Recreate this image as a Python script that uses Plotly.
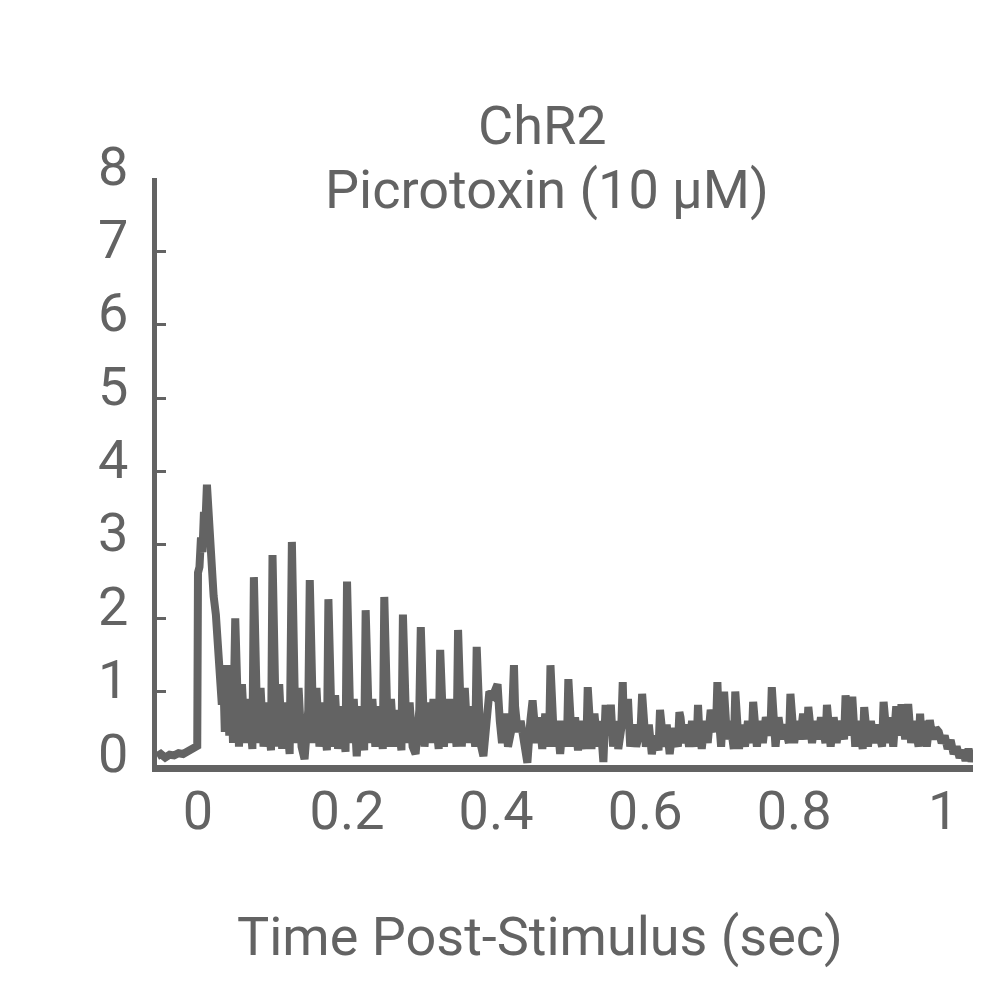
import plotly.graph_objects as go

# pre-stimulus baseline
baseline_t = [-0.055, -0.050, -0.044, -0.038, -0.032, -0.026, -0.020, -0.014, -0.008, -0.003, -0.001]
baseline_r = [0.12, 0.15, 0.10, 0.14, 0.13, 0.16, 0.15, 0.18, 0.20, 0.24, 0.26]

# onset burst
onset_t = [0.000, 0.002, 0.004, 0.006, 0.008, 0.010, 0.012, 0.014, 0.016, 0.018, 0.021,
           0.024, 0.027, 0.030, 0.032, 0.034, 0.036, 0.039, 0.042, 0.045, 0.047]
onset_r = [2.62, 2.70, 3.10, 2.90, 3.45, 3.30, 3.82, 3.40, 3.00, 2.62, 2.30,
           2.05, 1.60, 1.45, 0.82, 1.20, 0.45, 1.36, 0.40, 1.00, 0.30]

# 40 Hz train, one row per light pulse
train_t = [
    0.050, 0.0515, 0.055, 0.059, 0.063, 0.067, 0.073,
    0.075, 0.0765, 0.080, 0.084, 0.088, 0.092, 0.098,
    0.100, 0.1015, 0.105, 0.109, 0.113, 0.117, 0.123,
    0.126, 0.1275, 0.131, 0.135, 0.139, 0.143, 0.148,
    0.150, 0.1515, 0.155, 0.159, 0.163, 0.167, 0.173,
    0.175, 0.1765, 0.180, 0.184, 0.188, 0.192, 0.198,
    0.200, 0.2015, 0.205, 0.209, 0.213, 0.217, 0.223,
    0.225, 0.2265, 0.230, 0.234, 0.238, 0.242, 0.248,
    0.250, 0.2515, 0.255, 0.259, 0.263, 0.267, 0.273,
    0.275, 0.2765, 0.280, 0.284, 0.288, 0.292, 0.297,
    0.299, 0.3005, 0.304, 0.308, 0.312, 0.316, 0.323,
    0.325, 0.3265, 0.330, 0.334, 0.338, 0.342, 0.347,
    0.349, 0.3505, 0.354, 0.358, 0.362, 0.366, 0.372,
    0.374, 0.3755, 0.379, 0.383, 0.387, 0.391, 0.396,
    0.399, 0.402, 0.405, 0.408, 0.412, 0.416, 0.421,
    0.424, 0.4255, 0.429, 0.433, 0.437, 0.442, 0.446,
    0.449, 0.4505, 0.454, 0.458, 0.462, 0.466, 0.471,
    0.473, 0.4745, 0.478, 0.482, 0.486, 0.490, 0.495,
    0.497, 0.4985, 0.502, 0.506, 0.510, 0.514, 0.521,
    0.523, 0.5245, 0.528, 0.532, 0.536, 0.540, 0.544,
    0.547, 0.550, 0.554, 0.557, 0.561, 0.564, 0.568,
    0.570, 0.5715, 0.577, 0.580, 0.584, 0.588, 0.594,
    0.596, 0.5975, 0.601, 0.605, 0.609, 0.613, 0.618,
    0.620, 0.6215, 0.625, 0.629, 0.633, 0.637, 0.644,
    0.646, 0.6475, 0.651, 0.655, 0.659, 0.663, 0.669,
    0.671, 0.6725, 0.676, 0.680, 0.684, 0.688, 0.695,
    0.697, 0.6985, 0.702, 0.706, 0.710, 0.714, 0.719,
    0.721, 0.7225, 0.726, 0.730, 0.734, 0.738, 0.743,
    0.745, 0.7465, 0.750, 0.754, 0.758, 0.762, 0.768,
    0.770, 0.7715, 0.775, 0.779, 0.783, 0.787, 0.793,
    0.795, 0.7965, 0.800, 0.804, 0.808, 0.812, 0.817,
    0.819, 0.8205, 0.824, 0.828, 0.832, 0.836, 0.842,
    0.844, 0.8455, 0.849, 0.853, 0.857, 0.861, 0.867,
    0.869, 0.8705, 0.874, 0.878, 0.882, 0.886, 0.892,
    0.894, 0.8955, 0.899, 0.903, 0.907, 0.911, 0.918,
    0.920, 0.9215, 0.925, 0.929, 0.933, 0.937, 0.942,
    0.944, 0.9455, 0.949, 0.953, 0.957, 0.961, 0.967,
    0.969, 0.9705, 0.974, 0.978, 0.982, 0.986, 0.990,
]
train_r = [
    2.00, 1.25, 0.25, 1.10, 0.30, 0.90, 0.22,
    2.56, 1.30, 0.30, 1.05, 0.25, 0.85, 0.20,
    2.86, 1.35, 0.25, 1.10, 0.22, 0.85, 0.15,
    3.04, 1.40, 0.30, 1.05, 0.25, 0.08, 0.75,
    2.52, 1.23, 0.30, 1.05, 0.25, 0.85, 0.20,
    2.26, 1.15, 0.25, 0.95, 0.22, 0.80, 0.18,
    2.50, 1.10, 0.30, 0.90, 0.12, 0.80, 0.20,
    2.11, 1.20, 0.30, 0.90, 0.25, 0.80, 0.22,
    2.29, 1.05, 0.25, 0.90, 0.25, 0.75, 0.20,
    2.05, 1.05, 0.30, 0.85, 0.25, 0.15, 0.75,
    1.88, 1.00, 0.25, 0.85, 0.30, 0.90, 0.22,
    1.57, 0.85, 0.25, 0.90, 0.30, 0.90, 0.25,
    1.84, 1.10, 0.25, 1.05, 0.30, 0.80, 0.25,
    1.61, 0.80, 0.30, 0.12, 0.60, 1.00, 0.95,
    1.08, 1.10, 0.60, 0.30, 0.70, 0.25, 0.50,
    1.36, 0.80, 0.45, 0.60, 0.40, 0.03, 0.60,
    0.88, 0.70, 0.30, 0.65, 0.22, 0.70, 0.25,
    1.36, 0.80, 0.25, 0.60, 0.15, 0.60, 0.25,
    1.17, 0.70, 0.25, 0.65, 0.20, 0.60, 0.22,
    1.06, 0.60, 0.22, 0.70, 0.25, 0.60, 0.04,
    0.82, 0.40, 0.82, 0.25, 0.60, 0.22, 0.50,
    1.13, 0.50, 0.90, 0.25, 0.55, 0.25, 0.50,
    0.97, 0.60, 0.25, 0.55, 0.15, 0.40, 0.20,
    0.75, 0.50, 0.25, 0.55, 0.15, 0.50, 0.25,
    0.72, 0.65, 0.30, 0.55, 0.25, 0.60, 0.25,
    0.82, 0.50, 0.22, 0.60, 0.30, 0.75, 0.45,
    1.13, 0.70, 0.25, 1.00, 0.35, 0.60, 0.22,
    1.00, 0.60, 0.22, 0.55, 0.25, 0.60, 0.30,
    0.86, 0.50, 0.25, 0.60, 0.30, 0.65, 0.40,
    1.06, 0.60, 0.25, 0.65, 0.35, 0.55, 0.30,
    0.97, 0.60, 0.30, 0.60, 0.35, 0.70, 0.35,
    0.79, 0.50, 0.30, 0.60, 0.35, 0.65, 0.30,
    0.82, 0.55, 0.25, 0.65, 0.30, 0.60, 0.35,
    0.95, 0.70, 0.40, 0.93, 0.25, 0.60, 0.22,
    0.79, 0.50, 0.25, 0.60, 0.30, 0.55, 0.25,
    0.86, 0.60, 0.30, 0.65, 0.25, 0.80, 0.40,
    0.83, 0.60, 0.35, 0.83, 0.30, 0.60, 0.25,
    0.70, 0.45, 0.60, 0.25, 0.61, 0.35, 0.50,
]

# offset decay after the train
offset_t = [0.994, 0.998, 1.002, 1.006, 1.010, 1.014, 1.018, 1.022, 1.026, 1.030, 1.034, 1.038, 1.040]
offset_r = [0.45, 0.30, 0.40, 0.22, 0.34, 0.15, 0.25, 0.10, 0.20, 0.06, 0.22, 0.05, 0.12]

y_ticks = [0, 1, 2, 3, 4, 5, 6, 7, 8]

t = baseline_t + onset_t + train_t + offset_t
rate = baseline_r + onset_r + train_r + offset_r

grey = "#636363"
font = dict(family="Roboto", size=54, color=grey)

fig = go.Figure()
fig.add_trace(go.Scatter(x=t, y=rate, mode="lines",
                         line=dict(color=grey, width=8), showlegend=False))

# y tick labels sit a little above their tick marks in the original
ylabels = [dict(text=str(v), xref="paper", yref="y", x=0, y=v,
                xanchor="right", yanchor="middle", xshift=-27, yshift=12,
                showarrow=False, font=font) for v in y_ticks]

fig.update_layout(
    width=1000, height=1000,
    margin=dict(l=149, r=35, t=170, b=243),
    plot_bgcolor="white", paper_bgcolor="white",
    font=font,
    xaxis=dict(range=[-0.055, 1.040], dtick=0.2, tick0=0, showgrid=False, zeroline=False,
               showline=True, linecolor=grey, linewidth=7, ticks="",
               ticklabelstandoff=-8),
    yaxis=dict(range=[0, 8], tickvals=y_ticks, showticklabels=False,
               showgrid=False, zeroline=False,
               showline=True, linecolor=grey, linewidth=5,
               ticks="inside", ticklen=9, tickwidth=3, tickcolor=grey),
    annotations=ylabels + [
        dict(text="ChR2", xref="paper", yref="paper",
             x=0.472, y=1.090, xanchor="center", yanchor="middle", showarrow=False,
             font=font),
        dict(text="Picrotoxin (10 µM)", xref="paper", yref="paper",
             x=0.478, y=0.980, xanchor="center", yanchor="middle", showarrow=False,
             font=font),
        dict(text="Time Post-Stimulus (sec)", xref="paper", yref="paper",
             x=0.469, y=-0.293, xanchor="center", yanchor="middle", showarrow=False,
             font=font),
    ],
)

fig.write_html("out.html")
